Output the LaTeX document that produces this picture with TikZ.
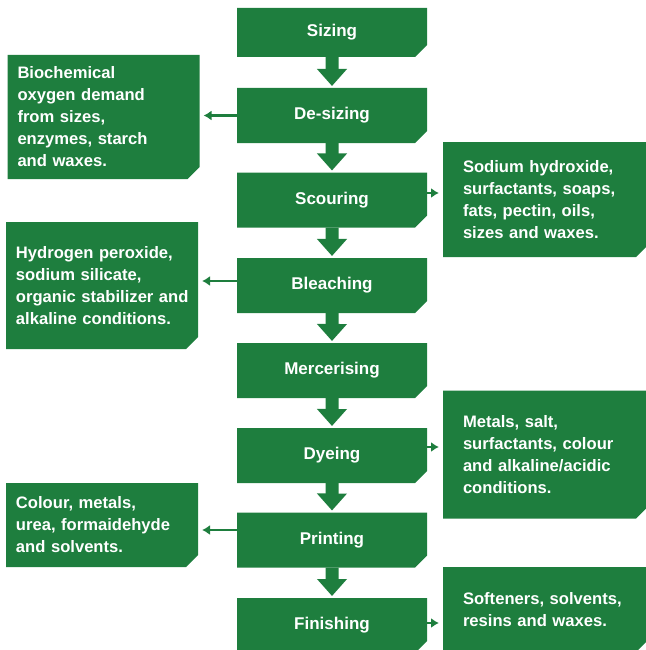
\documentclass[tikz,border=0pt]{standalone}
\usepackage{fontspec}
\setmainfont{Liberation Sans}
\usetikzlibrary{shapes.misc,arrows.meta}
\definecolor{leafgreen}{RGB}{30,126,62}

\begin{document}
\begin{tikzpicture}[x=1pt,y=-1pt]
\tikzset{ >=latex,
  stage/.style={chamfered rectangle, chamfered rectangle corners=south east,
    chamfered rectangle xsep=6pt, chamfered rectangle ysep=6pt,
    fill=leafgreen, text=white, inner sep=0pt, outer sep=0pt,
    font=\bfseries\fontsize{17}{20}\selectfont,
    minimum width=190pt, minimum height=55pt},
  wasteleft/.style={stage, align=left, font=\bfseries\fontsize{16.6}{22}\selectfont,
    inner xsep=4pt, text width=172pt, minimum width=192pt},
  wasteright/.style={stage, align=left, font=\bfseries\fontsize{16.6}{22}\selectfont,
    inner xsep=14pt, text width=165pt, minimum width=205pt},
  flow/.style={leafgreen, line width=13pt, -{Triangle[width=29pt,length=17pt]}, shorten >=2pt},
  side/.style={leafgreen, line width=2.6pt, -{Latex[length=8pt,width=10pt]}, shorten >=4pt},
}
\useasboundingbox (0,0) rectangle (645,650);

%\draw [lightgray, dashed](0,0) grid [step=50] (645,650);

\node [stage, minimum height=49pt] (siz) at (332,32.5)  {Sizing};
\node [stage] (des) at (332,115.5) {De-sizing};
\node [stage] (sco) at (332,200)   {Scouring};
\node [stage] (ble) at (332,285.5) {Bleaching};
\node [stage] (mer) at (332,370.5) {Mercerising};
\node [stage] (dye) at (332,455.5) {Dyeing};
\node [stage] (pri) at (332,540)   {Printing};
\node [stage] (fin) at (332,625.5) {Finishing};

\node [wasteleft, minimum height=124pt] (bod) at (103.5,117)
  {Biochemical\\oxygen demand\\from sizes,\\enzymes, starch\\and waxes.};
\node [wasteleft, minimum height=127pt] (hyd) at (102,285.5)
  {Hydrogen peroxide,\\sodium silicate,\\\mbox{organic stabilizer and}\\alkaline conditions.};
\node [wasteleft, minimum height=84pt] (col) at (102,525)
  {Colour, metals,\\urea, formaidehyde\\and solvents.};

\node [wasteright, minimum height=115pt] (soda) at (545.5,199.5)
  {Sodium hydroxide,\\surfactants, soaps,\\fats, pectin, oils,\\sizes and waxes.};
\node [wasteright, minimum height=128pt] (metal) at (545.5,454.5)
  {Metals, salt,\\surfactants, colour\\and alkaline/acidic\\conditions.};
\node [wasteright, minimum height=85pt] (soft) at (545.5,609.5)
  {Softeners, solvents,\\resins and waxes.};

\draw [flow] (siz) -- (des);
\draw [flow] (des) -- (sco);
\draw [flow] (sco) -- (ble);
\draw [flow] (ble) -- (mer);
\draw [flow] (mer) -- (dye);
\draw [flow] (dye) -- (pri);
\draw [flow] (pri) -- (fin);

\draw [side] (des.west) -- (des.west -| bod.east);
\draw [side] ([yshift=4.5pt]ble.west) -- ([yshift=4.5pt]ble.west -| hyd.east);
\draw [side] ([yshift=10pt]pri.west) -- ([yshift=10pt]pri.west -| col.east);

\draw [side] ([yshift=7pt]sco.east) -- ([yshift=7pt]sco.east -| soda.west);
\draw [side] ([yshift=8.5pt]dye.east) -- ([yshift=8.5pt]dye.east -| metal.west);
\draw [side] ([yshift=2.5pt]fin.east) -- ([yshift=2.5pt]fin.east -| soft.west);

\end{tikzpicture}
\end{document}
